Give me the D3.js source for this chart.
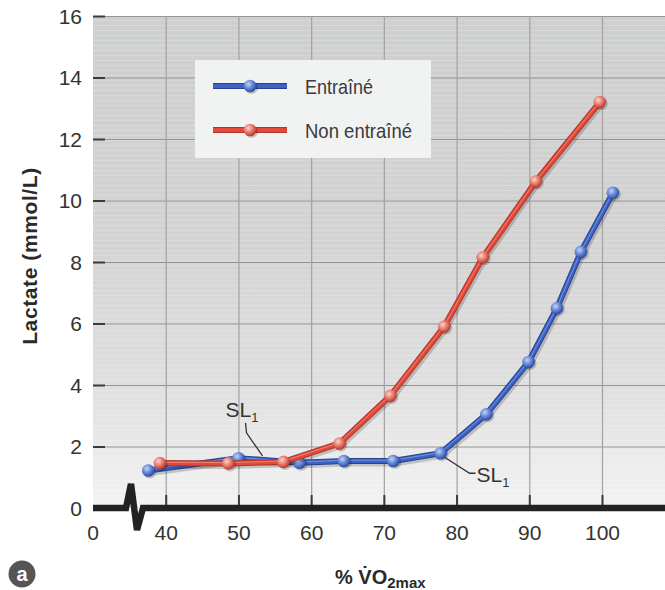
<!DOCTYPE html>
<html>
<head>
<meta charset="utf-8">
<script src="https://cdn.jsdelivr.net/npm/d3@7"></script>
<style>
  html, body { margin: 0; padding: 0; background: #ffffff; }
  svg { display: block; }
</style>
</head>
<body>
<svg id="chart" width="665" height="590"></svg>
<script>
// ---------- data ----------
const xTicks = [40, 50, 60, 70, 80, 90, 100];
const xOriginLabel = "0";
const yTicks = [0, 2, 4, 6, 8, 10, 12, 14, 16];
const seriesNames = ["Entraîné", "Non entraîné"];
const trainedX = [37.6, 50, 58.4, 64.5, 71.3, 77.8, 84.1, 89.9, 93.8, 97.1, 101.5];
const trainedY = [1.22, 1.62, 1.47, 1.53, 1.53, 1.78, 3.05, 4.75, 6.5, 8.33, 10.25];
const untrainedX = [39.2, 48.6, 56.2, 63.9, 70.9, 78.3, 83.6, 90.9, 99.7];
const untrainedY = [1.46, 1.45, 1.5, 2.1, 3.65, 5.9, 8.15, 10.62, 13.2];
const slLabel = "SL";
const slSub = "1";
const slTrainedIndex = 5;    // SL1 of trained group
const slUntrainedIndex = 2;  // SL1 of untrained group
const yTitle = "Lactate (mmol/L)";
const panelLetter = "a";

// ---------- layout ----------
const svg = d3.select("#chart");
const W = 665, H = 590;
const plotLeft = 93, plotTop = 16, plotBottom = 508;
const x = d3.scaleLinear().domain([30, 100]).range([plotLeft, 602]);
const y = d3.scaleLinear().domain([0, 16]).range([plotBottom, plotTop]);
const plotRight = W;

const defs = svg.append("defs");
const bg = defs.append("linearGradient").attr("id", "bg").attr("x1", 0).attr("y1", 0).attr("x2", 0).attr("y2", 1);
[[0, "#cecfd0"], [0.45, "#d3d3d4"], [0.75, "#dfdfe0"], [1, "#f3f3f3"]].forEach(([o, c]) =>
  bg.append("stop").attr("offset", o).attr("stop-color", c));

function ballGrad(id, c0, c1, c2) {
  const g = defs.append("radialGradient").attr("id", id)
    .attr("cx", "38%").attr("cy", "35%").attr("r", "65%");
  g.append("stop").attr("offset", 0).attr("stop-color", c0);
  g.append("stop").attr("offset", 0.55).attr("stop-color", c1);
  g.append("stop").attr("offset", 1).attr("stop-color", c2);
}
ballGrad("ballBlue", "#c4d3f5", "#6283d6", "#2d4c9f");
ballGrad("ballRed", "#fbd2cb", "#e7786b", "#b8392c");

// stripe texture
const pat = defs.append("pattern").attr("id", "stripes").attr("patternUnits", "userSpaceOnUse")
  .attr("width", 8).attr("height", 5);
pat.append("rect").attr("x", 0).attr("y", 0).attr("width", 8).attr("height", 1)
  .attr("fill", "#ffffff").attr("opacity", 0.18);

// background
svg.append("rect").attr("x", plotLeft).attr("y", plotTop)
  .attr("width", plotRight - plotLeft).attr("height", plotBottom - plotTop)
  .attr("fill", "url(#bg)");
svg.append("rect").attr("x", plotLeft).attr("y", plotTop)
  .attr("width", plotRight - plotLeft).attr("height", plotBottom - plotTop)
  .attr("fill", "url(#stripes)");

// grid
const grid = svg.append("g");
grid.selectAll("line.h").data(yTicks.filter(d => d > 0)).join("line")
  .attr("x1", plotLeft).attr("x2", plotRight)
  .attr("y1", d => y(d) + 0.5).attr("y2", d => y(d) + 0.5)
  .attr("stroke", "#959596").attr("stroke-width", 1.2);
const vGrid = d3.range(40, 110, 10);
grid.selectAll("line.v").data(vGrid).join("line")
  .attr("x1", d => x(d) + 0.5).attr("x2", d => x(d) + 0.5)
  .attr("y1", plotTop).attr("y2", plotBottom)
  .attr("stroke", "#a2a2a3").attr("stroke-width", 1.2);

// legend box
const leg = svg.append("g");
leg.append("rect").attr("x", 195).attr("y", 60).attr("width", 236).attr("height", 98)
  .attr("fill", "#f1f2f2");

// ---------- axes ----------
const yAxis = d3.axisLeft(y).tickValues(yTicks).tickSize(-12).tickPadding(11).tickFormat(d3.format("d"));
const gy = svg.append("g").attr("transform", `translate(${plotLeft},0)`).call(yAxis);
gy.select(".domain").remove();
gy.selectAll(".tick line").attr("stroke", "#3a3a3a").attr("stroke-width", 2);
gy.selectAll(".tick text").attr("font-family", "'Liberation Sans', Arial, sans-serif")
  .attr("font-size", 21).attr("fill", "#333").attr("dy", "0.35em");

const xAxis = d3.axisBottom(x).tickValues(xTicks).tickSize(-13).tickPadding(17).tickFormat(d3.format("d"));
const gx = svg.append("g").attr("transform", `translate(0,${plotBottom})`).call(xAxis);
gx.select(".domain").remove();
gx.selectAll(".tick line").attr("stroke", "#3a3a3a").attr("stroke-width", 2);
gx.selectAll(".tick text").attr("font-family", "'Liberation Sans', Arial, sans-serif")
  .attr("font-size", 21).attr("fill", "#333");
gx.append("text").attr("x", x(30)).attr("y", 17).attr("dy", "0.71em")
  .attr("text-anchor", "middle").attr("font-family", "'Liberation Sans', Arial, sans-serif")
  .attr("font-size", 21).attr("fill", "#333").text(xOriginLabel);

// ---------- series ----------
const trained = trainedX.map((v, i) => ({ x: v, y: trainedY[i] }));
const untrained = untrainedX.map((v, i) => ({ x: v, y: untrainedY[i] }));
const line = d3.line().x(d => x(d.x)).y(d => y(d.y));

function drawSeries(data, dark, main, light, grad) {
  const g = svg.append("g");
  g.append("path").datum(data).attr("d", line).attr("fill", "none")
    .attr("stroke", "#000").attr("stroke-opacity", 0.18).attr("stroke-width", 7)
    .attr("stroke-linejoin", "round").attr("transform", "translate(1.5,2)");
  g.append("path").datum(data).attr("d", line).attr("fill", "none")
    .attr("stroke", dark).attr("stroke-width", 6).attr("stroke-linejoin", "round");
  g.append("path").datum(data).attr("d", line).attr("fill", "none")
    .attr("stroke", main).attr("stroke-width", 4).attr("stroke-linejoin", "round");
  g.append("path").datum(data).attr("d", line).attr("fill", "none")
    .attr("stroke", light).attr("stroke-width", 1).attr("stroke-opacity", 0.7)
    .attr("stroke-linejoin", "round").attr("transform", "translate(0,-0.8)");
  g.selectAll("circle.sh").data(data).join("circle")
    .attr("cx", d => x(d.x) + 1.5).attr("cy", d => y(d.y) + 1.5).attr("r", 6.5)
    .attr("fill", "#000").attr("opacity", 0.2);
  g.selectAll("circle.pt").data(data).join("circle")
    .attr("cx", d => x(d.x)).attr("cy", d => y(d.y)).attr("r", 6.3)
    .attr("fill", `url(#${grad})`);
}
drawSeries(trained, "#27438f", "#3d62c4", "#8aa6e6", "ballBlue");
drawSeries(untrained, "#b3362a", "#e14a3b", "#f29a8e", "ballRed");

// ---------- legend ----------
const legFont = "'Liberation Sans Narrow', 'Arial Narrow', 'Liberation Sans', sans-serif";
const legItems = [
  { name: seriesNames[0], dark: "#27438f", main: "#3d62c4", grad: "ballBlue", yy: 86, len: 68 },
  { name: seriesNames[1], dark: "#b3362a", main: "#e14a3b", grad: "ballRed", yy: 130, len: 107 }
];
legItems.forEach(it => {
  leg.append("line").attr("x1", 213).attr("x2", 287).attr("y1", it.yy).attr("y2", it.yy)
    .attr("stroke", it.dark).attr("stroke-width", 6);
  leg.append("line").attr("x1", 213).attr("x2", 287).attr("y1", it.yy).attr("y2", it.yy)
    .attr("stroke", it.main).attr("stroke-width", 4);
  leg.append("circle").attr("cx", 251.5).attr("cy", it.yy + 1.5).attr("r", 6.5).attr("fill", "#000").attr("opacity", 0.2);
  leg.append("circle").attr("cx", 250).attr("cy", it.yy).attr("r", 6.3).attr("fill", `url(#${it.grad})`);
  leg.append("text").attr("x", 305).attr("y", it.yy + 8).attr("font-family", legFont)
    .attr("font-size", 21).attr("fill", "#3a3a3a")
    .attr("textLength", it.len).attr("lengthAdjust", "spacingAndGlyphs").text(it.name);
});

// ---------- x axis baseline with break ----------
const ax = svg.append("g");
ax.append("path")
  .attr("d", `M${plotLeft},${plotBottom} H${plotLeft + 33} L${plotLeft + 38},${plotBottom - 24} L${plotLeft + 44},${plotBottom + 22} L${plotLeft + 50},${plotBottom} H${plotRight}`)
  .attr("fill", "none").attr("stroke", "#222").attr("stroke-width", 6.5).attr("stroke-linejoin", "miter");

// ---------- SL1 annotations ----------
const slFont = "'Liberation Sans', Arial, sans-serif";
const pU = untrained[slUntrainedIndex];
const pT = trained[slTrainedIndex];
svg.append("path")
  .attr("d", `M${x(pU.x) - 38},${y(pU.y) - 39} l1,10 L${x(pU.x) - 21},${y(pU.y) - 6}`)
  .attr("fill", "none").attr("stroke", "#333").attr("stroke-width", 1.3);
const t1 = svg.append("text").attr("x", x(pU.x) - 58).attr("y", y(pU.y) - 45)
  .attr("font-family", slFont).attr("font-size", 21).attr("fill", "#333");
t1.append("tspan").text(slLabel);
t1.append("tspan").attr("font-size", 13).attr("dy", 5).text(slSub);
svg.append("path")
  .attr("d", `M${x(pT.x) + 4},${y(pT.y) + 4} L${x(pT.x) + 29},${y(pT.y) + 20} H${x(pT.x) + 35}`)
  .attr("fill", "none").attr("stroke", "#333").attr("stroke-width", 1.3);
const t2 = svg.append("text").attr("x", x(pT.x) + 36).attr("y", y(pT.y) + 29)
  .attr("font-family", slFont).attr("font-size", 21).attr("fill", "#333");
t2.append("tspan").text(slLabel);
t2.append("tspan").attr("font-size", 13).attr("dy", 5).text(slSub);

// ---------- titles ----------
svg.append("text").attr("transform", `translate(37,256) rotate(-90)`)
  .attr("text-anchor", "middle").attr("font-family", slFont).attr("font-weight", "bold")
  .attr("font-size", 21).attr("letter-spacing", 0.6).attr("fill", "#2a2a2a").text(yTitle);

const xt = svg.append("text").attr("x", 335).attr("y", 584)
  .attr("font-family", slFont).attr("font-weight", "bold").attr("font-size", 20).attr("fill", "#2a2a2a");
xt.append("tspan").text("% ");
xt.append("tspan").text("V\u0307O");
xt.append("tspan").attr("font-size", 15).attr("dy", 4).text("2max");

// panel badge
svg.append("circle").attr("cx", 22).attr("cy", 574).attr("r", 13.5).attr("fill", "#555");
svg.append("text").attr("x", 22).attr("y", 581).attr("text-anchor", "middle")
  .attr("font-family", slFont).attr("font-weight", "bold").attr("font-size", 20)
  .attr("fill", "#fff").text(panelLetter);
</script>
</body>
</html>
